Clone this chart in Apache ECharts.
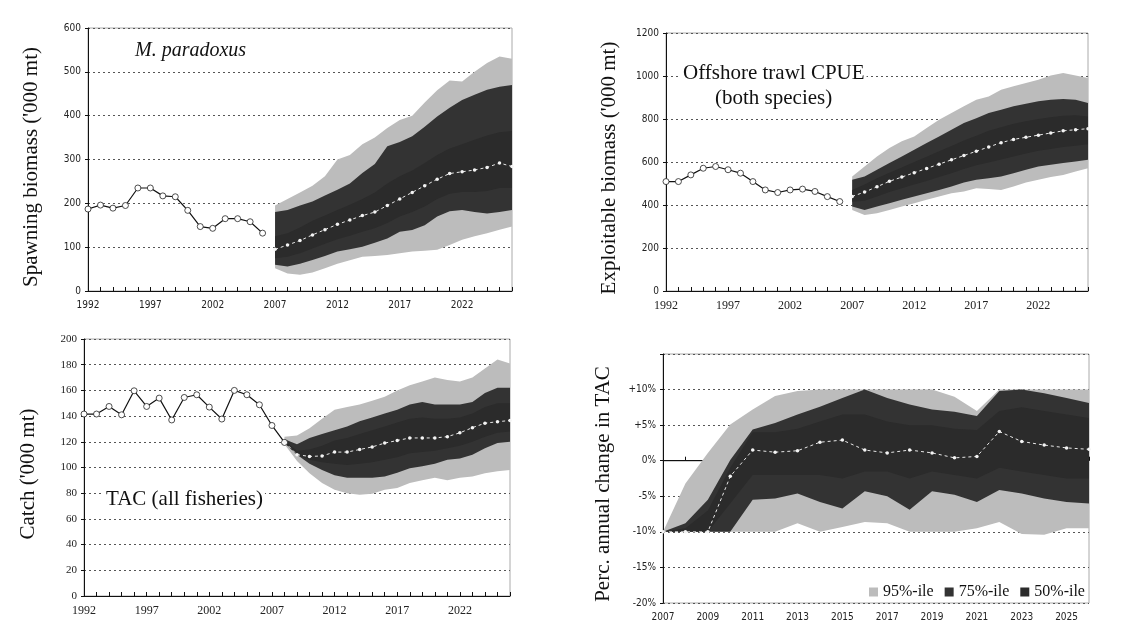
<!DOCTYPE html>
<html><head><meta charset="utf-8">
<script src="https://cdn.jsdelivr.net/npm/echarts@6/dist/echarts.min.js"></script>
<style>html,body{margin:0;padding:0;background:#fff}#c{width:1144px;height:639px}</style>
</head><body><div id="c"></div>
<script>
// ---- categories ----
const yearsLong = ['1992','1993','1994','1995','1996','1997','1998','1999','2000','2001','2002','2003','2004','2005','2006','2007','2008','2009','2010','2011','2012','2013','2014','2015','2016','2017','2018','2019','2020','2021','2022','2023','2024','2025','2026'];
const yearsTac = ['2007','2008','2009','2010','2011','2012','2013','2014','2015','2016','2017','2018','2019','2020','2021','2022','2023','2024','2025','2026'];

// ---- Panel 1: spawning biomass M. paradoxus ('000 mt) ----
const sbHist = [187,196,189,195,235,235,217,215,184,147,143,165,165,158,132];           // 1992-2006
const sbStart = '2007';
const sbLo95 = [52,40,37,42,52,62,70,78,80,82,86,90,92,94,105,117,125,132,140,147];
const sbLo75 = [60,56,62,71,80,90,95,101,110,120,135,139,150,170,182,185,180,177,180,185];
const sbLo50 = [75,78,86,97,108,118,126,135,143,155,170,180,193,210,222,226,226,228,235,235];
const sbMed  = [95,105,115,128,140,152,162,172,180,195,210,225,240,255,268,272,276,282,292,284];
const sbHi50 = [125,132,145,160,172,185,197,210,225,245,262,275,292,310,325,335,345,355,362,365];
const sbHi75 = [180,185,195,204,218,231,245,269,290,330,340,353,375,398,418,436,448,459,466,470];
const sbHi95 = [195,210,225,240,262,300,310,335,350,372,390,400,430,458,480,478,500,520,535,530];

// ---- Panel 2: exploitable biomass ('000 mt) ----
const ebHist = [509,509,540,571,579,564,548,509,470,458,470,474,463,439,416];           // 1992-2006
const ebStart = '2007';
const ebLo95 = [377,354,362,377,393,408,424,439,455,463,478,474,470,486,505,517,530,540,556,571];
const ebLo75 = [393,377,393,408,424,439,455,470,486,505,517,525,533,548,564,579,587,595,602,610];
const ebLo50 = [415,420,440,460,478,495,512,530,548,568,585,598,612,626,640,652,661,670,676,682];
const ebMed  = [440,460,485,510,530,550,570,590,610,630,650,670,690,705,715,725,735,745,750,755];
const ebHi50 = [470,495,525,550,575,600,625,650,675,700,722,745,762,778,790,800,808,815,817,812];
const ebHi75 = [517,533,564,595,626,657,688,719,750,781,804,828,843,859,871,882,890,893,890,874];
const ebHi95 = [533,579,626,665,696,719,758,797,828,859,890,905,936,952,967,983,1002,1014,1002,991];

// ---- Panel 3: catch / TAC ('000 mt) ----
const cHist = [141.6,141.6,147.5,141,159.7,147.5,154,137,154.5,156.6,147,137.7,160,156.6,148.8,132.7,119.5]; // 1992-2008
const cStart = '2008';
const cLo95 = [118,105,95.6,88,82.6,80,78.7,79.5,82.6,84,88,90,92,90,92,93,95.6,97,98];
const cLo75 = [119,110,103,98,94,92,92,92,93,96,99.5,101,103,106,107,110,115,119,120];
const cLo50 = [119.5,110,106,104,103,102,103,104,106,108,111,112,113,115,117,120,124,127,128];
const cMed  = [120,110,108.6,109,112,112,114,116,119,121,123,123,123,124,127,131,134.5,135.6,136.6];
const cHi50 = [121,113,114,117,121,123,126,129,132,135,138,139,138,138,139,142,147,150,150];
const cHi75 = [122,118,123,126,129,132,136,139,142,145,149,151,149,149,149,151,158,162,162];
const cHi95 = [124,125,130.6,138,145,147,149,152,155,160,164,167,170,168,167,170,177,184,181];

// ---- Panel 4: percentage annual change in TAC (%) ----
const pcStart = '2007';
const pcLo95 = [-10,-10,-10,-10,-10,-10,-8.8,-10,-9.3,-8.6,-8.8,-10,-10,-10,-9.5,-8.6,-10.3,-10.4,-9.5,-9.5];
const pcLo75 = [-10,-10,-10,-10,-5.5,-5.3,-4.6,-5.8,-6.7,-4.3,-5,-6.9,-4.3,-4.8,-5.8,-4.1,-4.6,-5.3,-5.8,-6];
const pcLo50 = [-10,-10,-10,-6,-2,-2,-2,-2,-2.5,-1.5,-1.5,-2.5,-1.5,-2,-2.5,-1,-1.5,-2,-2.5,-2.5];
const pcMed  = [-10,-10,-10,-2.2,1.5,1.2,1.4,2.6,2.9,1.5,1.1,1.5,1.1,0.4,0.6,4.1,2.7,2.2,1.8,1.6];
const pcHi50 = [-10,-9.5,-7,-1,4,4,4.5,5.5,6.5,6.5,5.5,5,5,4.5,4.3,7,7.5,7,6.5,6];
const pcHi75 = [-10,-8.8,-5.5,0.1,4.4,5.3,6.5,7.6,8.8,10,8.8,7.9,7.2,6.9,6.3,9.8,10,9.5,8.8,8.1];
const pcHi95 = [-10,-3.2,1.1,5.1,7.2,9.1,9.8,10,10,10,10,10,10,9,7,10,10,10,10,10];
const pcTickLabels = {'-20':'-20%','-15':'-15%','-10':'-10%','-5':'-5%','0':'0%','5':'+5%','10':'+10%','15':''};

const C95 = '#bcbcbc', C75 = '#333333', C50 = '#2b2b2b';
const SANS = '"Liberation Sans Narrow","DejaVu Sans Condensed","Liberation Sans",sans-serif';
const SERIF = '"Liberation Serif","DejaVu Serif",serif';

function pad(arr, cats, start) {
  const out = cats.map(() => null);
  const s = cats.indexOf(start);
  arr.forEach((v, i) => { out[s + i] = v; });
  return out;
}
function bandSeries(idx, cats, start, lo, hi, name, color, key) {
  const base = pad(lo, cats, start);
  const width = pad(hi.map((h, i) => +(h - lo[i]).toFixed(3)), cats, start);
  return [
    {type:'line', xAxisIndex:idx, yAxisIndex:idx, data:base, stack:'s'+idx+key, stackStrategy:'all',
     symbol:'none', lineStyle:{opacity:0}, silent:true, z:3},
    {type:'line', name:name, xAxisIndex:idx, yAxisIndex:idx, data:width, stack:'s'+idx+key, stackStrategy:'all',
     symbol:'none', lineStyle:{width:0, color:color}, itemStyle:{color:color}, areaStyle:{color:color, opacity:1}, silent:true, z:3}
  ];
}
function panelSeries(idx, cats, start, lo95, lo75, lo50, med, hi50, hi75, hi95) {
  return [].concat(
    bandSeries(idx, cats, start, lo95, hi95, '95%-ile', C95, 'a'),
    bandSeries(idx, cats, start, lo75, hi75, '75%-ile', C75, 'b'),
    bandSeries(idx, cats, start, lo50, hi50, '50%-ile', C50, 'c'),
    [{type:'line', xAxisIndex:idx, yAxisIndex:idx, data:pad(med, cats, start), symbol:'circle', symbolSize:3.5,
      itemStyle:{color:'#f4f4f4', borderWidth:0}, lineStyle:{color:'#e8e8e8', width:1, type:[3,3]}, silent:true, z:6}]
  );
}
function histSeries(idx, cats, hist) {
  return {type:'line', xAxisIndex:idx, yAxisIndex:idx, data:pad(hist, cats, cats[0]), symbol:'circle', symbolSize:6,
    itemStyle:{color:'#fff', borderColor:'#222', borderWidth:0.8}, lineStyle:{color:'#111', width:1.2}, silent:true, z:5};
}
function xAx(idx, cats, every, font, size) {
  return {type:'category', gridIndex:idx, data:cats, boundaryGap:false,
    axisLine:{lineStyle:{color:'#111', width:1}},
    axisTick:{show:true, interval:0, inside:true, length:4, lineStyle:{color:'#111'}},
    axisLabel:{interval:every, fontFamily:font, fontSize:size, color:'#222', margin:9},
    splitLine:{show:false}};
}
function yAx(idx, min, max, step, font, size, fmt) {
  return {type:'value', gridIndex:idx, min:min, max:max, interval:step,
    axisLine:{show:true, lineStyle:{color:'#111', width:1}},
    axisTick:{show:true, length:3, lineStyle:{color:'#111'}},
    axisLabel:{fontFamily:font, fontSize:size, color:'#222', margin:7, formatter:fmt || (v => String(v))},
    splitLine:{show:true, lineStyle:{color:'#555', width:1, type:[2,3]}}};
}
function label(left, top, text, font) {
  return {type:'text', left:left, top:top, z:10,
    style:{text:text, font:font, fill:'#111', backgroundColor:'#fff', padding:[0,2,0,2]}};
}
function vTitle(x, y, text) {
  return {type:'text', x:x, y:y, rotation:Math.PI/2,
    style:{text:text, font:'21px "Liberation Serif"', fill:'#111', textAlign:'center', textVerticalAlign:'middle', align:'center', verticalAlign:'middle'}};
}

const chart = echarts.init(document.getElementById('c'), null, {renderer:'canvas'});
const option = {
  animation:false,
  backgroundColor:'#fff',
  grid:[
    {left:88, top:28, width:424, height:263, show:true, borderColor:'#aaa', borderWidth:1},
    {left:666, top:33, width:422, height:258, show:true, borderColor:'#aaa', borderWidth:1},
    {left:84, top:339, width:426, height:257, show:true, borderColor:'#aaa', borderWidth:1},
    {left:663, top:354, width:426, height:249, show:true, borderColor:'#aaa', borderWidth:1}
  ],
  xAxis:[
    xAx(0, yearsLong, 4, SANS, 10),
    xAx(1, yearsLong, 4, SERIF, 12),
    xAx(2, yearsLong, 4, SERIF, 12),
    xAx(3, yearsTac, 1, SANS, 10)
  ],
  yAxis:[
    yAx(0, 0, 600, 100, SANS, 10),
    yAx(1, 0, 1200, 200, SANS, 10),
    yAx(2, 0, 200, 20, SERIF, 11),
    yAx(3, -20, 15, 5, SANS, 10, v => pcTickLabels[String(v)])
  ],
  legend:{data:['95%-ile','75%-ile','50%-ile'], selectedMode:false, left:864, top:579, icon:'rect',
    itemWidth:9, itemHeight:9, itemGap:11, textStyle:{fontFamily:SERIF, fontSize:16, color:'#111'}},
  graphic:[
    label(133, 41, 'M. paradoxus', 'italic 20px "Liberation Serif"'),
    label(681, 63, 'Offshore trawl CPUE', '21px "Liberation Serif"'),
    label(713, 88, '(both species)', '21px "Liberation Serif"'),
    label(104, 489, 'TAC (all fisheries)', '21px "Liberation Serif"'),
    vTitle(31, 167, "Spawning biomass ('000 mt)"),
    vTitle(609, 168, "Exploitable biomass ('000 mt)"),
    vTitle(28, 474, "Catch ('000 mt)"),
    vTitle(603, 484, 'Perc. annual change in TAC')
  ],
  series:[].concat(
    panelSeries(0, yearsLong, sbStart, sbLo95, sbLo75, sbLo50, sbMed, sbHi50, sbHi75, sbHi95),
    [histSeries(0, yearsLong, sbHist)],
    panelSeries(1, yearsLong, ebStart, ebLo95, ebLo75, ebLo50, ebMed, ebHi50, ebHi75, ebHi95),
    [histSeries(1, yearsLong, ebHist)],
    panelSeries(2, yearsLong, cStart, cLo95, cLo75, cLo50, cMed, cHi50, cHi75, cHi95),
    [histSeries(2, yearsLong, cHist)],
    [{type:'line', xAxisIndex:3, yAxisIndex:3, data:yearsTac.map(() => 0), symbol:'none',
      lineStyle:{color:'#111', width:1}, silent:true, z:2}],
    panelSeries(3, yearsTac, pcStart, pcLo95, pcLo75, pcLo50, pcMed, pcHi50, pcHi75, pcHi95)
  )
};
chart.setOption(option);
</script>
</body></html>
